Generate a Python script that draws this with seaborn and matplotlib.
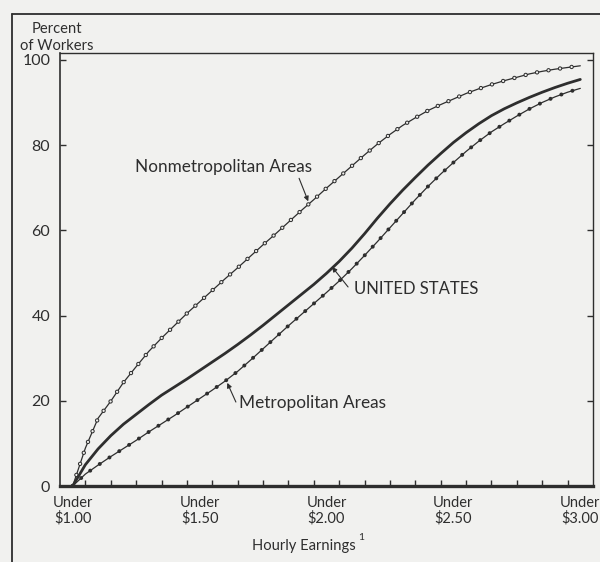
import matplotlib
matplotlib.use("Agg")
import matplotlib.pyplot as plt
import seaborn as sns
import pandas as pd
from matplotlib.lines import Line2D

# ---------------- data ----------------
wage = [1.00, 1.05, 1.10, 1.15, 1.20, 1.25, 1.30, 1.35, 1.40, 1.45,
        1.50, 1.55, 1.60, 1.65, 1.70, 1.75, 1.80, 1.85, 1.90, 1.95,
        2.00, 2.05, 2.10, 2.15, 2.20, 2.25, 2.30, 2.35, 2.40, 2.45,
        2.50, 2.55, 2.60, 2.65, 2.70, 2.75, 2.80, 2.85, 2.90, 2.95, 3.00]

nonmetro = [0, 8.9, 15.9, 19.9, 24.3, 28.0, 31.6, 34.7, 37.6, 40.5,
            43.2, 45.9, 48.6, 51.2, 53.9, 56.6, 59.2, 61.9, 64.6, 67.2,
            69.9, 72.5, 75.1, 77.7, 80.2, 82.5, 84.6, 86.4, 88.1, 89.5,
            90.8, 92.1, 93.2, 94.2, 95.1, 95.9, 96.7, 97.3, 97.8, 98.2, 98.6]

united_states = [0, 5.0, 8.7, 11.8, 14.5, 16.8, 19.1, 21.3, 23.2, 25.1,
                 27.1, 29.1, 31.1, 33.2, 35.4, 37.7, 40.1, 42.5, 44.9, 47.3,
                 49.9, 52.7, 55.8, 59.2, 62.8, 66.2, 69.4, 72.4, 75.3, 78.0,
                 80.6, 82.9, 85.0, 86.9, 88.5, 89.9, 91.2, 92.4, 93.5, 94.5, 95.4]

metro = [0, 2.8, 4.9, 6.9, 8.8, 10.7, 12.7, 14.6, 16.5, 18.5,
         20.5, 22.5, 24.6, 26.9, 29.5, 32.2, 34.9, 37.6, 40.2, 42.8,
         45.4, 48.1, 51.0, 54.1, 57.3, 60.6, 63.9, 67.2, 70.3, 73.2,
         75.9, 78.5, 80.9, 83.1, 85.0, 86.8, 88.5, 90.0, 91.3, 92.4, 93.3]

xtick_pos = [1.00, 1.50, 2.00, 2.50, 3.00]
xtick_labels = ["Under\n$1.00", "Under\n$1.50", "Under\n$2.00", "Under\n$2.50", "Under\n$3.00"]
ytick_pos = [0, 20, 40, 60, 80, 100]

df = pd.DataFrame({"wage": wage, "nonmetro": nonmetro,
                   "us": united_states, "metro": metro})

# ---------------- style ----------------
bg = "#f1f1ef"
ink = "#2e2e2e"
sns.set_theme(style="white")
plt.rcParams["font.family"] = ["Lato", "DejaVu Sans"]
plt.rcParams["lines.scale_dashes"] = False

fig = plt.figure(figsize=(6.0, 5.62), dpi=100, facecolor=bg)
ax = fig.add_axes([60/600, 1-486/562, (593-60)/600, (486-53)/562])
ax.set_facecolor(bg)

ax.set_xlim(0.95, 3.05)
ax.set_ylim(0, 101.6)

gap = 8.4  # points between marker dots along the line
dot = (0, (0.001, gap))

# Nonmetropolitan: thin line with open circles along it
sns.lineplot(data=df, x="wage", y="nonmetro", ax=ax, color=ink, lw=0.9)
sns.lineplot(data=df, x="wage", y="nonmetro", ax=ax, color=ink, lw=3.2,
             linestyle=dot, dash_capstyle="round")
sns.lineplot(data=df, x="wage", y="nonmetro", ax=ax, color=bg, lw=1.7,
             linestyle=dot, dash_capstyle="round")

# United States: heavy solid line
sns.lineplot(data=df, x="wage", y="us", ax=ax, color=ink, lw=2.0)

# Metropolitan: thin line with filled dots along it
sns.lineplot(data=df, x="wage", y="metro", ax=ax, color=ink, lw=0.9)
sns.lineplot(data=df, x="wage", y="metro", ax=ax, color=ink, lw=2.9,
             linestyle=dot, dash_capstyle="round")

# axes/ticks
ax.set_xlabel("")
ax.set_ylabel("")
ax.set_xticks(xtick_pos)
ax.set_xticklabels(xtick_labels, fontsize=10.5, color=ink, linespacing=1.15)
ax.set_xticks([1.05 + 0.1 * i for i in range(20)], minor=True)
ax.tick_params(axis="x", which="major", length=0, pad=7)
ax.tick_params(axis="x", which="minor", length=4, width=1.0, direction="in",
               color=ink, bottom=True)
ax.set_yticks(ytick_pos)
ax.set_yticklabels([str(v) for v in ytick_pos], fontsize=11.5, color=ink)
ax.tick_params(axis="y", which="major", length=4, width=1.0, direction="in",
               left=True, right=True, color=ink, pad=7)

for side, w in [("left", 1.2), ("bottom", 2.4), ("top", 1.0), ("right", 1.0)]:
    ax.spines[side].set_visible(True)
    ax.spines[side].set_linewidth(w)
    ax.spines[side].set_color(ink)

# annotations
arrow = dict(arrowstyle="-|>", lw=0.8, color=ink, mutation_scale=7,
             shrinkA=0, shrinkB=0)
ax.text(1.593, 74.8, "Nonmetropolitan Areas", ha="center", va="center",
        fontsize=12.3, color=ink)
ax.annotate("", xy=(1.928, 66.8), xytext=(1.892, 72.2), arrowprops=arrow)

ax.text(2.108, 46.2, "UNITED STATES", ha="left", va="center",
        fontsize=12, color=ink)
ax.annotate("", xy=(2.022, 51.4), xytext=(2.085, 46.7), arrowprops=arrow)

ax.text(1.655, 19.4, "Metropolitan Areas", ha="left", va="center",
        fontsize=12.4, color=ink)
ax.annotate("", xy=(1.609, 24.2), xytext=(1.643, 19.7), arrowprops=arrow)

# figure texts
fig.text(57/600, 1-37.5/562, "Percent\nof Workers", ha="center", va="center",
         fontsize=10.6, color=ink, linespacing=1.2)
fig.text(356/600, 1-546/562, "Hourly Earnings", ha="right", va="center",
         fontsize=10.6, color=ink)
fig.text(358/600, 1-537/562, "1", ha="left", va="center",
         fontsize=7.5, color=ink)

# outer frame (extends past the image edges on right and bottom)
fig.add_artist(Line2D([12/600, 12/600], [0, 1-14/562], transform=fig.transFigure,
                      color=ink, lw=1.3))
fig.add_artist(Line2D([12/600, 1.0], [1-14/562, 1-14/562], transform=fig.transFigure,
                      color=ink, lw=1.3))

fig.savefig("out.png", dpi=100, facecolor=bg)
